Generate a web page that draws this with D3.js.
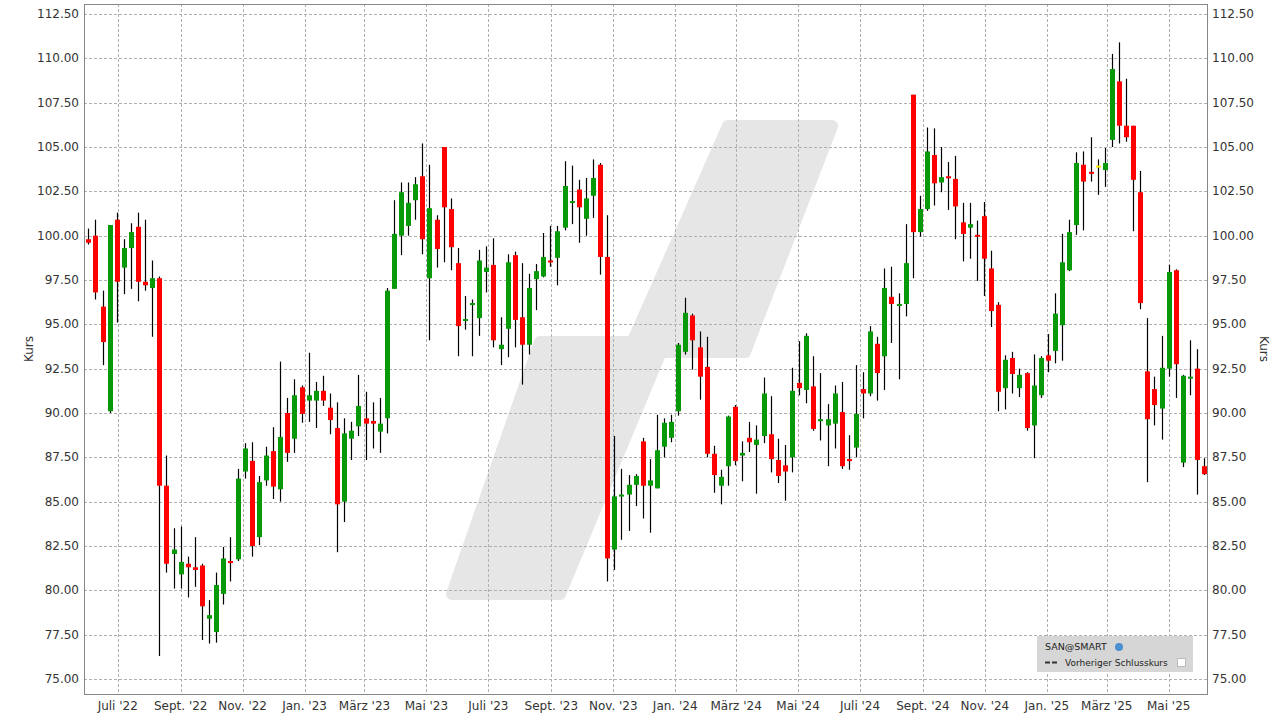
<!DOCTYPE html>
<html><head><meta charset="utf-8">
<script src="https://cdn.jsdelivr.net/npm/d3@7"></script>
<style>body{margin:0;background:#fff;}text{font-family:"DejaVu Sans",sans-serif;}</style>
</head><body><svg id="c" width="1281" height="720"></svg>
<script>
const startDate = "2022-06-02";
const opens  = [99.8,100,96,90.1,100.9,98.2,99.3,100.5,97.4,97.05,97.6,85.9,82.05,80.9,81.5,81.3,81.4,78.4,77.65,79.8,81.65,81.75,86.7,87.3,83,86.2,87.85,85.7,90,88.55,91.45,90.7,90.7,91.25,90.3,89.15,85,88.55,89.25,89.7,89.55,88.95,89.7,97,100,100.55,102,103.35,97.6,100.9,105,101.5,98.45,95.2,96.1,95.35,97.95,98.35,93.6,94.75,98.9,95.4,93.85,97.55,97.7,98.6,98.75,100.45,101.85,102.6,100.95,102.25,104,98.8,82.3,85.3,85.4,85.95,88.4,85.9,85.75,88.1,88.6,90.1,93.45,95.5,93.7,92.6,87.7,85.9,87,90.35,87.6,88.6,88.2,88.7,88.8,87.35,87.05,87.5,91.7,91.3,91.5,89.55,89.3,89.4,90.05,87.4,88.05,91.35,91.1,93.9,93.2,96.55,96.05,96.15,107.95,100.2,101.5,104.55,103,103.35,103.2,100.75,100.45,100.05,101.1,98.15,96.1,91.4,93.1,91.4,92.25,89.3,91,93.25,93.5,94.95,98.05,100.6,104,103.6,103.95,103.7,105.4,108.7,106.2,106.2,102.45,92.35,91.35,90.25,92.5,98.05,87.2,91.95,92.5,87];
const highs  = [100.4,100.9,96.9,100.6,101.3,99.8,100.7,101.3,100.9,98.6,97.7,87.6,83.5,83.6,81.9,83,81.5,79.45,81,82.45,83,86.85,88.3,88.35,86.45,88.1,89.2,92.9,90.85,91.9,91.55,93.4,91.75,92.1,91.1,90.6,89.7,89.5,92.15,91.2,90.6,90.85,97.05,102,103,103,103.3,105.2,104,101.15,105,102.1,99.3,96.6,96.4,99.2,99.4,99.85,95.4,98.95,99.1,98.45,97.85,98.4,100.15,100.55,100.55,104.2,103.95,103.15,103.25,104.3,104.1,101.15,88.7,86.85,86.5,86.55,88.6,87.4,89.9,89.7,89.9,93.95,96.5,95.6,94.6,94.3,88.15,86.8,89.85,90.45,88.4,89.5,89.3,92,90.95,88.55,88.2,92.55,94.05,94.5,93.2,92.25,90.5,91.55,91.75,88.75,92.7,92.3,94.9,94.3,98.15,98.25,96.75,100.65,107.95,102.25,106.1,106.05,105,104.15,104.5,101.85,101.85,100.85,101.9,99.15,96.25,93.25,93.45,92.5,92.3,93.3,93.2,94.45,96.75,100.1,100.9,104.7,104.75,105.55,104.3,104.95,110.25,110.9,108.85,106.2,103.65,95.35,92.05,94.35,98.35,98.1,92.15,94.1,93.6,87.45];
const lows   = [99.5,96.4,92.7,90,95.1,96.7,97,96.3,96.9,94.3,76.3,81,80.1,80.1,79.6,80.2,77.2,77,77.05,79.2,80.5,81.65,86.3,81.9,82.55,85.9,85.15,85,87.25,87.75,89.45,89.5,89.15,90.4,88.8,82.15,83.85,87.35,88.7,87.35,88,87.75,88.85,97,98.9,100,100.9,98.95,94.1,98.2,98.5,98.05,93.2,94.7,93.2,94.35,96.8,93.7,92.7,93.15,93.7,91.6,93.3,95.8,97.65,98.25,97.2,100.3,100.65,99.6,100,101,97.8,80.5,81.15,82.85,83.35,84.75,84.05,83.25,85.75,87.5,88.35,89.85,93.3,92.45,90.75,87.5,85.5,84.85,85.9,87.05,86.15,87.8,85.45,88.3,86.65,86.05,85.05,86.65,91,90.55,89,88.45,87,88,86.85,86.8,87.5,89.7,90.95,90.7,91.3,93.95,91.9,95.45,97.6,99.95,101.4,101.7,102.45,101.45,99.8,98.55,98.7,97.45,96.6,94.85,90.1,90.2,91.1,90.9,89,87.45,90.85,92.3,92.8,92.95,98,100.05,100.3,103.05,102.3,102.75,105,105.2,105.3,100.25,95.85,86.1,89.3,88.5,92.05,90.85,86.95,91,85.4,86.5];
const closes = [99.6,96.8,94,100.6,97.4,99.3,100.2,97.4,97.2,97.6,85.9,81.5,82.3,81.6,81.3,81.15,79.1,78.6,80.3,81.8,81.55,86.3,88,82.5,86.1,87.6,85.85,88.65,87.75,91,89.95,91,91.25,90.7,89.6,84.85,88.85,89,90.4,89.4,89.4,89.4,96.9,100.1,102.45,101.85,102.9,99.8,101.55,99.25,101.6,99.35,94.9,95.3,96.2,98.6,98.2,94.1,93.85,98.5,95.25,93.85,97.05,98,98.8,98.5,100.25,102.8,101.95,101.6,102.1,103.25,98.8,81.8,85.3,85.4,85.95,86.45,85.9,86.2,87.9,89.45,89.5,93.85,95.65,94.1,92.05,87.7,86.5,86.4,89.8,87.3,87.75,88.35,88.5,91.1,87.4,86.45,86.7,91.25,91.4,94.35,89.1,89.65,89.65,91.1,87,87.3,89.95,91.1,94.6,92.25,97.05,96.15,96.15,98.45,100.2,101.5,104.75,102.95,103.3,103.25,101.65,100.1,100.65,99.95,98.7,95.75,91.2,93,92.2,92.15,89.15,91.55,93.1,92.95,95.6,98.5,100.2,104.1,103.05,103.5,103.95,104.1,109.4,106.2,105.55,103.15,96.2,89.65,90.45,92.55,97.95,92.75,92.1,92.05,87.35,86.55];
const yTicks = [75,77.5,80,82.5,85,87.5,90,92.5,95,97.5,100,102.5,105,107.5,110,112.5];
const xTickDates  = ["2022-07-01","2022-09-01","2022-11-01","2023-01-01","2023-03-01","2023-05-01","2023-07-01","2023-09-01","2023-11-01","2024-01-01","2024-03-01","2024-05-01","2024-07-01","2024-09-01","2024-11-01","2025-01-01","2025-03-01","2025-05-01"];
const xTickLabels = ["Juli '22","Sept. '22","Nov. '22","Jan. '23","März '23","Mai '23","Juli '23","Sept. '23","Nov. '23","Jan. '24","März '24","Mai '24","Juli '24","Sept. '24","Nov. '24","Jan. '25","März '25","Mai '25"];

const svg = d3.select("#c");
const L=84,R=1207,T=4,B=694;
const p = d3.timeParse("%Y-%m-%d");
const d0 = p(startDate);
const data = opens.map((o,i)=>({d:d3.timeDay.offset(d0,7*i),o,h:highs[i],l:lows[i],c:closes[i]}));
const x = d3.scaleTime().domain([new Date(2022,4,29,18), new Date(2025,5,7,17)]).range([L+1,R]);
const y = d3.scaleLinear().domain([75,112.5]).range([679,14]);

svg.append("rect").attr("x",L).attr("y",T).attr("width",R-L).attr("height",B-T).attr("fill","#fff");
// watermark
const wm = svg.append("g").attr("fill","#e6e6e6").attr("stroke","#e6e6e6").attr("stroke-width",12).attr("stroke-linejoin","round");
wm.append("path").attr("d","M728,126 L832,126 L745,352 L628,352 Z");
wm.append("path").attr("d","M540,342 L665,342 L560,594 L452,594 Z");

// grid
const g = svg.append("g").attr("stroke","#b0b0b0").attr("stroke-dasharray","3,2").attr("stroke-width",1);
yTicks.forEach(v=>g.append("line").attr("x1",L).attr("x2",R).attr("y1",Math.round(y(v))+.5).attr("y2",Math.round(y(v))+.5));
xTickDates.forEach(s=>{const xx=Math.round(x(p(s)))+.5; g.append("line").attr("x1",xx).attr("x2",xx).attr("y1",T).attr("y2",B);});
svg.append("rect").attr("x",L+.5).attr("y",T+.5).attr("width",R-L).attr("height",B-T).attr("fill","none").attr("stroke","#888");

// candles
const cg = svg.append("g");
data.forEach(d=>{
  const cx = Math.round(x(d.d))+.5;
  cg.append("line").attr("x1",cx).attr("x2",cx).attr("y1",y(d.h)).attr("y2",y(d.l)).attr("stroke","#000").attr("stroke-width",1.2);
  const col = d.c>d.o?"#079907":(d.c<d.o?"#ff0000":"#ffee00");
  const top=y(Math.max(d.o,d.c)), bot=y(Math.min(d.o,d.c));
  cg.append("rect").attr("x",cx-2.5).attr("width",5).attr("y",top).attr("height",Math.max(2,bot-top)).attr("fill",col);
});

// axes labels
const fmt = d3.format(".2f");
const ax = svg.append("g").attr("font-size",12).attr("fill","#333");
yTicks.forEach(v=>{
  ax.append("text").attr("x",L-5).attr("y",y(v)+4).attr("text-anchor","end").text(fmt(v));
  ax.append("text").attr("x",R+5).attr("y",y(v)+4).attr("text-anchor","start").text(fmt(v));
});
xTickDates.forEach((s,i)=>ax.append("text").attr("x",x(p(s))).attr("y",710).attr("text-anchor","middle").text(xTickLabels[i]));
ax.append("text").attr("transform","translate(33,349) rotate(-90)").attr("text-anchor","middle").text("Kurs");
ax.append("text").attr("transform","translate(1260,349) rotate(90)").attr("text-anchor","middle").text("Kurs");

// legend
const lg = svg.append("g");
lg.append("rect").attr("x",1037).attr("y",636).attr("width",156).attr("height",36).attr("fill","#d6d6d6");
lg.append("text").attr("x",1045).attr("y",650).attr("font-size",9.5).attr("fill","#222").text("SAN@SMART");
lg.append("circle").attr("cx",1119).attr("cy",647).attr("r",4).attr("fill","#4a8fd0");
lg.append("line").attr("x1",1045).attr("x2",1059).attr("y1",662.5).attr("y2",662.5).attr("stroke","#333").attr("stroke-width",2).attr("stroke-dasharray","5,2");
lg.append("text").attr("x",1065).attr("y",666).attr("font-size",9).attr("fill","#222").text("Vorheriger Schlusskurs");
lg.append("rect").attr("x",1177.5).attr("y",658.5).attr("width",8).attr("height",8).attr("fill","#fff").attr("stroke","#bbb");
</script></body></html>
